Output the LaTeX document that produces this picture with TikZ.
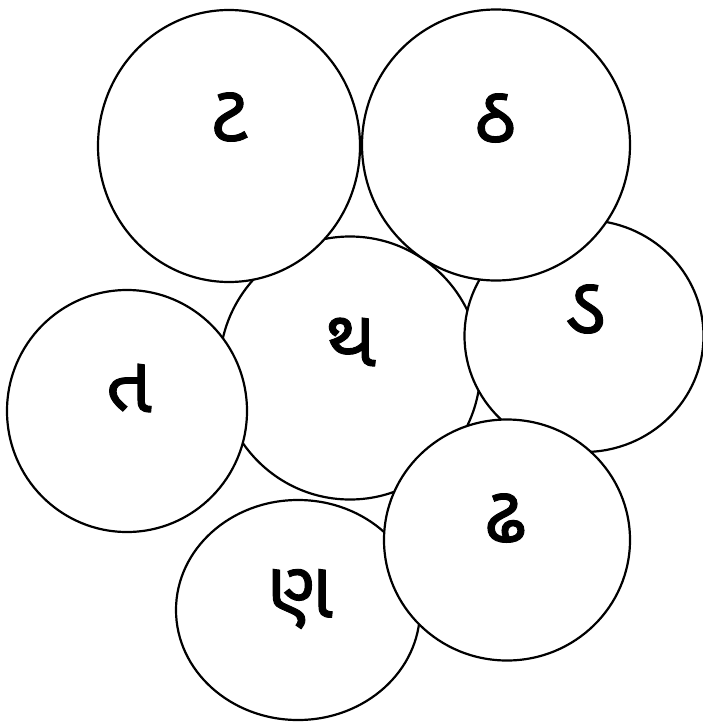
\documentclass[tikz,border=0pt]{standalone}
\usepackage{fontspec}
\newfontfamily\gujfont[Script=Gujarati,FakeBold=1.2]{Noto Sans Gujarati UI}
\usetikzlibrary{shapes.geometric}
\tikzset{
  disc/.style={ellipse,draw=black,line width=2.2pt,fill=white,inner sep=0pt},
  glyph/.style={font=\gujfont\fontsize{80}{80}\selectfont,inner sep=0pt},
}
\begin{document}
\begin{tikzpicture}[x=1pt,y=-1pt]
  \useasboundingbox (0,0) rectangle (703,723);
  % circles back to front, letter above each centre
  \foreach \nm/\x/\y/\w/\h/\lx/\ly/\ch in {
      tha/350/368/261/263/351/342/થ,
      Dda/584/336/239/232/586/309/ડ,
      Ttha/496/145/268/271/495/118/ઠ,
      Tta/229/146/262/272/229/117/ટ,
      ta/127/411/240/242/129/388/ત,
      Nna/298/610/244/220/300/599/ણ,
      Ddha/507/540/246/241/505/518/ઢ}{
    \node[disc,minimum width=\w pt,minimum height=\h pt] (c\nm) at (\x,\y) {};
    \node[glyph] (l\nm) at (\lx,\ly) {\ch};
  }
\end{tikzpicture}
\end{document}
